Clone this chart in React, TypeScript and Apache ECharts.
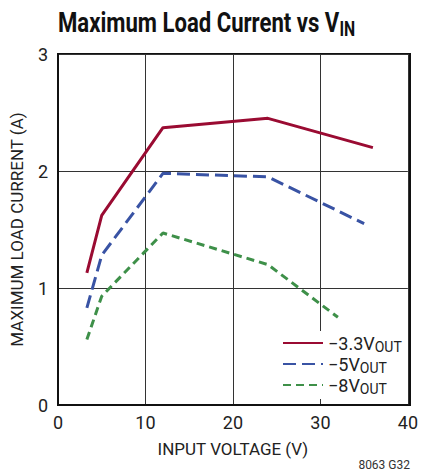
import React, { useEffect, useRef } from "react";
import * as echarts from "echarts";

const seriesNames = ["−3.3VOUT", "−5VOUT", "−8VOUT"];
const legendMain = ["−3.3V", "−5V", "−8V"];
const vin33 = [3.3, 5, 12, 24, 36];
const cur33 = [1.13, 1.62, 2.37, 2.45, 2.2];
const vin5 = [3.3, 5, 12, 24, 35];
const cur5 = [0.83, 1.28, 1.98, 1.95, 1.55];
const vin8 = [3.3, 5, 12, 24, 32];
const cur8 = [0.56, 0.93, 1.47, 1.2, 0.75];
const xTicks = [0, 10, 20, 30, 40];
const yTicks = [0, 1, 2, 3];

const FONT = "'Liberation Sans Narrow', 'Roboto', sans-serif";

export default function App() {
  const ref = useRef<HTMLDivElement>(null);
  useEffect(() => {
    const chart = echarts.init(ref.current!, null, { renderer: "svg" });
    const pair = (xs: number[], ys: number[]) => xs.map((x, i) => [x, ys[i]]);
    const colors = ["#9a0b32", "#3953a4", "#3e9049"];
    const dashes: any[] = ["solid", [13, 6], [8, 5]];
    const data = [pair(vin33, cur33), pair(vin5, cur5), pair(vin8, cur8)];
    chart.setOption({
      animation: false,
      backgroundColor: "#fff",
      grid: { left: 58, right: 11, top: 54, bottom: 70, containLabel: false },
      xAxis: {
        type: "value",
        min: xTicks[0],
        max: xTicks[xTicks.length - 1],
        interval: 10,
        name: "INPUT VOLTAGE (V)",
        nameLocation: "middle",
        nameGap: 35,
        nameTextStyle: { fontFamily: FONT, fontSize: 17, color: "#222" },
        axisLine: { show: true, lineStyle: { color: "#111", width: 2 } },
        axisTick: { show: false },
        axisLabel: { fontFamily: FONT, fontSize: 18, color: "#222", margin: 8 },
        splitLine: { show: true, lineStyle: { color: "#333", width: 1 } },
      },
      yAxis: {
        type: "value",
        min: yTicks[0],
        max: yTicks[yTicks.length - 1],
        interval: 1,
        name: "MAXIMUM LOAD CURRENT (A)",
        nameLocation: "middle",
        nameGap: 33,
        nameTextStyle: { fontFamily: FONT, fontSize: 17, color: "#222" },
        axisLine: { show: true, lineStyle: { color: "#111", width: 2 } },
        axisTick: { show: false },
        axisLabel: { fontFamily: FONT, fontSize: 18, color: "#222", margin: 10 },
        splitLine: { show: true, lineStyle: { color: "#333", width: 1 } },
      },
      legend: {
        orient: "vertical",
        left: 280,
        top: 331,
        backgroundColor: "#fff",
        padding: [3, 4, 3, 2],
        itemWidth: 40,
        itemHeight: 12,
        itemGap: 1,
        data: seriesNames,
        itemStyle: { opacity: 0 },
        formatter: (name: string) => {
          const i = seriesNames.indexOf(name);
          return "{a|" + legendMain[i] + "}{b|OUT}";
        },
        textStyle: {
          rich: {
            a: { fontFamily: FONT, fontSize: 18, color: "#222" },
            b: { fontFamily: FONT, fontSize: 14, color: "#222", verticalAlign: "bottom", padding: [8, 0, 0, 0] },
          },
        },
      },
      series: seriesNames.map((n, i) => ({
        name: n,
        type: "line",
        data: data[i],
        symbol: "none",
        lineStyle: { color: colors[i], width: 3, type: dashes[i] },
        itemStyle: { color: colors[i] },
      })),
      graphic: [
        {
          type: "text",
          x: 58,
          y: 7,
          scaleX: 0.79,
          style: {
            text: "{a|Maximum Load Current vs V}{b|IN}",
            rich: {
              a: { fontFamily: FONT, fontWeight: "bold", fontSize: 28, fill: "#111" },
              b: { fontFamily: FONT, fontWeight: "bold", fontSize: 20, fill: "#111", verticalAlign: "bottom", padding: [12, 0, 0, 0] },
            },
          },
        },
        {
          type: "text",
          right: 11,
          top: 459,
          style: { text: "8063 G32", fontFamily: FONT, fontSize: 12, fill: "#333" },
        },
        {
          type: "rect",
          shape: { x: 58, y: 54, width: 352, height: 351 },
          style: { fill: "none", stroke: "#111", lineWidth: 2 },
          silent: true,
        },
      ],
    });
    return () => chart.dispose();
  }, []);
  return <div ref={ref} style={{ width: 421, height: 475, position: "absolute", left: 0, top: 0 }} />;
}
